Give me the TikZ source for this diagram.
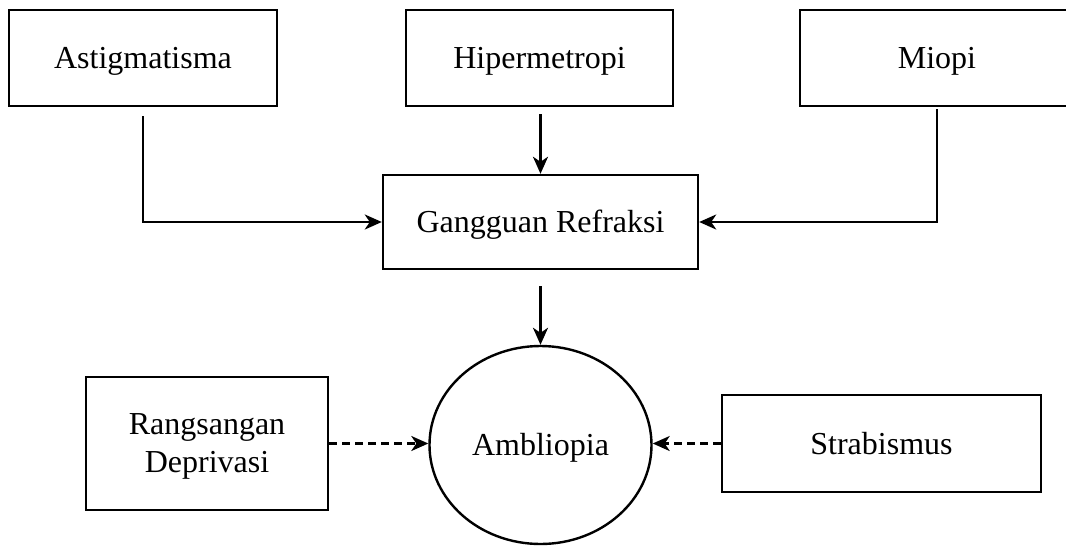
\documentclass[tikz,border=0pt]{standalone}
\usepackage{fontspec}
\setmainfont{Liberation Serif}
\usetikzlibrary{arrows.meta,shapes.geometric}
\begin{document}
\begin{tikzpicture}[x=1pt,y=-1pt,
  box/.style={draw,line width=2.4pt,inner sep=0pt,font=\fontsize{32}{38}\selectfont,align=center,text depth=0pt},
  one/.style={text height=21pt},
  arr/.style={line width=2.4pt,-{Stealth[length=17pt,width=15pt,inset=5pt]}},
  darr/.style={arr,dash pattern=on 8pt off 5pt}]
\useasboundingbox (0,0) rectangle (1066,547);
\node[box,one,minimum width=268pt,minimum height=96pt] (ast) at (143,58) {Astigmatisma};
\node[box,one,minimum width=267pt,minimum height=96pt] (hip) at (539.5,58) {Hipermetropi};
\node[box,one,minimum width=274pt,minimum height=96pt] (mio) at (937,58) {Miopi};
\node[box,one,minimum width=315pt,minimum height=94pt] (ger) at (540.5,222) {Gangguan Refraksi};
\node[box,one,ellipse,minimum width=222pt,minimum height=198pt] (amb) at (540.5,445) {Ambliopia};
\node[box,minimum width=242pt,minimum height=133pt] (ran) at (207,443.5) {Rangsangan\\Deprivasi};
\node[box,one,minimum width=319pt,minimum height=97pt] (str) at (881.5,443.5) {Strabismus};
\draw[arr,shorten <=9pt] (ast.south) |- (ger.west);
\draw[arr,shorten <=7pt] (ger.north |- hip.south) -- (ger.north);
\draw[arr,shorten <=2pt] (mio.south) |- (ger.east);
\draw[arr,shorten <=16pt] (ger.south) -- (amb.north);
\draw[darr] (ran.east) -- (ran.east -| amb.west);
\draw[darr] (str.west) -- (str.west -| amb.east);
\end{tikzpicture}
\end{document}
